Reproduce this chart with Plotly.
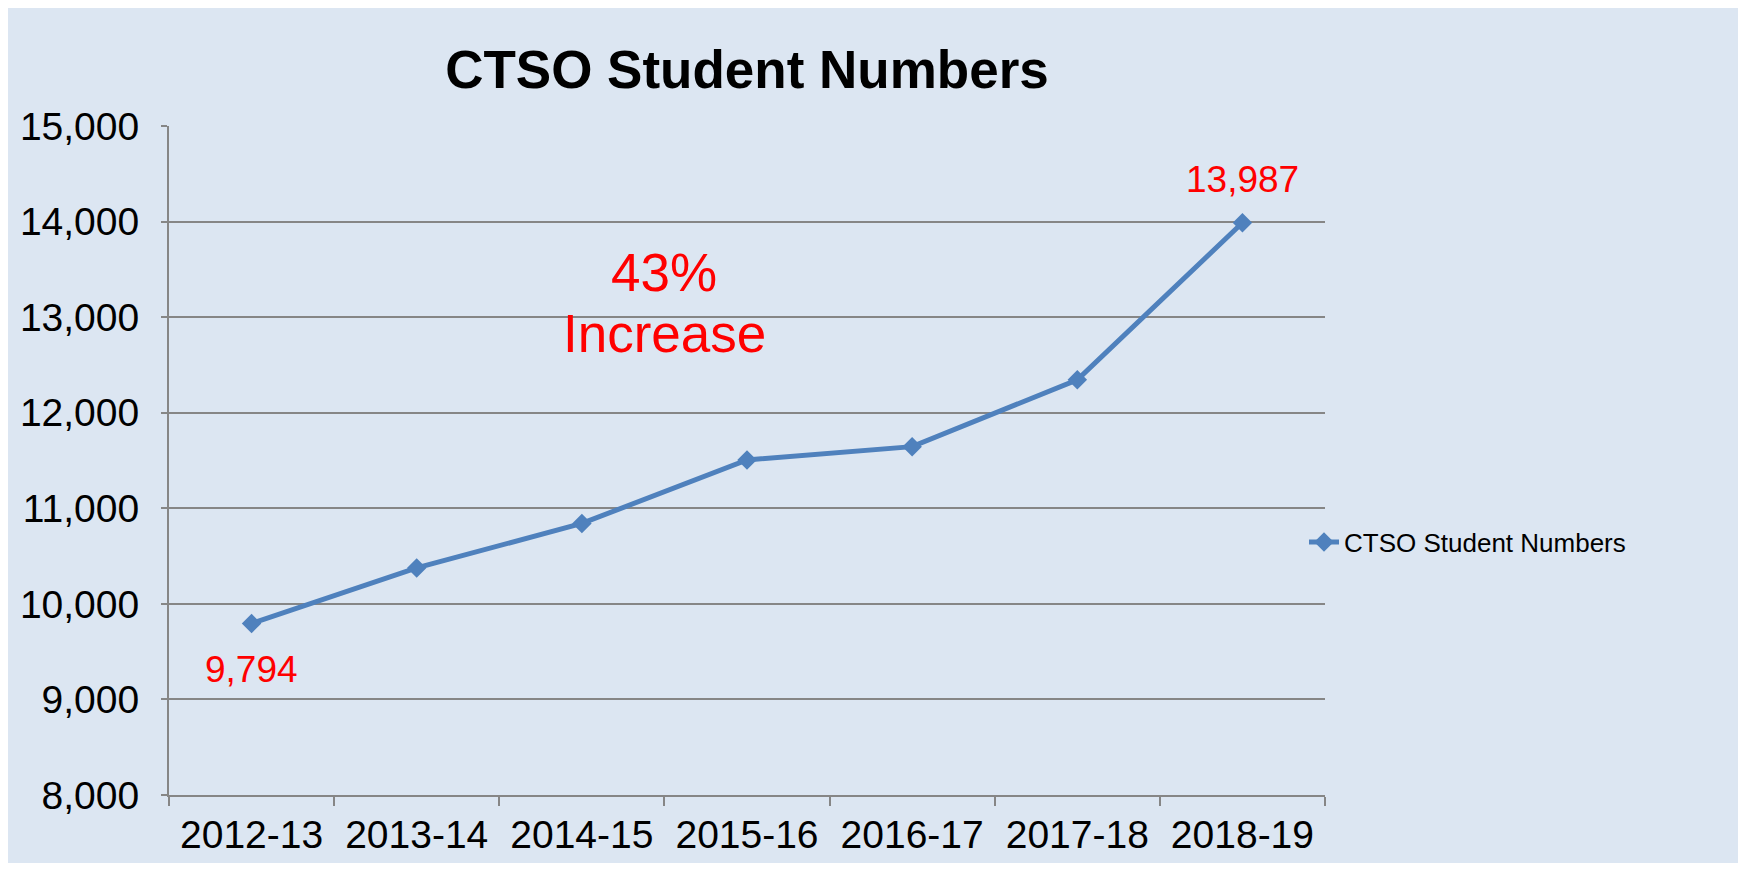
import plotly.graph_objects as go

categories = ["2012-13", "2013-14", "2014-15", "2015-16", "2016-17", "2017-18", "2018-19"]
students = [9794, 10376, 10842, 11506, 11645, 12344, 13987]
series_name = "CTSO Student Numbers"
title_text = "CTSO Student Numbers"
y_ticks = [8000, 9000, 10000, 11000, 12000, 13000, 14000, 15000]
callout_lines = ["43%", "Increase"]

W, H = 1746, 872
ML, MR, MT, MB = 161, 429, 118, 85
PW, PH = W - ML - MR, H - MT - MB
BG = "#DCE6F2"
GRID = "#868686"
BLUE = "#4F81BD"
FONT = "Liberation Sans, Arial, sans-serif"

fig = go.Figure()
fig.add_trace(go.Scatter(
    x=categories, y=students, mode="lines+markers", name=series_name,
    line=dict(color=BLUE, width=5),
    marker=dict(symbol="diamond", size=15, color=BLUE),
))

fig.update_layout(
    width=W, height=H,
    paper_bgcolor=BG, plot_bgcolor=BG,
    margin=dict(l=ML, r=MR, t=MT, b=MB, autoexpand=False),
    font=dict(family=FONT, color="black"),
    showlegend=True,
    legend=dict(xref="container", yref="container", x=1296 / W, y=1 - 534 / H,
                xanchor="left", yanchor="middle", bgcolor="rgba(0,0,0,0)",
                font=dict(size=26, family=FONT)),
    title=dict(text="<b>" + title_text + "</b>", x=0.5, xref="paper",
               y=1 - 61 / H, yref="container", xanchor="center", yanchor="middle",
               font=dict(size=53, family=FONT, color="black")),
)

fig.update_xaxes(
    type="category", range=[-0.5, len(categories) - 0.5],
    showgrid=False, showline=True, linecolor=GRID, linewidth=2,
    ticks="outside", tickson="boundaries", ticklen=9, tickwidth=2, tickcolor=GRID,
    tickfont=dict(size=39, family=FONT, color="black"),
    ticklabelstandoff=4,
    zeroline=False, automargin=False,
)
fig.update_yaxes(
    range=[y_ticks[0], y_ticks[-1]], tickvals=y_ticks, tickformat=",",
    showgrid=True, gridcolor=GRID, gridwidth=2,
    showline=True, linecolor=GRID, linewidth=2,
    ticks="outside", ticklen=6, tickwidth=2, tickcolor=GRID,
    tickfont=dict(size=39, family=FONT, color="black"),
    ticklabelstandoff=14,
    zeroline=False, automargin=False,
)
# plot area bottom in figure px: H - MB = 787 -> screen 795 (body margin 8)

# data labels on first and last points
fig.add_annotation(x=categories[0], y=students[0], text=f"{students[0]:,}",
                   showarrow=False, yshift=-46, font=dict(size=37, color="red", family=FONT))
fig.add_annotation(x=categories[-1], y=students[-1], text=f"{students[-1]:,}",
                   showarrow=False, yshift=43, font=dict(size=37, color="red", family=FONT))

# callout text
fig.add_annotation(x=2.5, y=13462, text=callout_lines[0], showarrow=False,
                   font=dict(size=53, color="red", family=FONT))
fig.add_annotation(x=2.5, y=12824, text=callout_lines[1], showarrow=False,
                   font=dict(size=53, color="red", family=FONT))

# white strips at right and bottom edges (figure px 1732+, 855+)
fig.add_shape(type="rect", xref="paper", yref="paper",
              x0=(1732 - ML) / PW, x1=(W + 20 - ML) / PW, y0=-(MB + 20) / PH, y1=(H - MT) / PH,
              line=dict(width=0), fillcolor="white", layer="above")
fig.add_shape(type="rect", xref="paper", yref="paper",
              x0=-(ML + 20) / PW, x1=(W + 20 - ML) / PW, y0=-(MB + 20) / PH, y1=-(MB - (H - 855)) / PH,
              line=dict(width=0), fillcolor="white", layer="above")

fig.write_html("out.html")
